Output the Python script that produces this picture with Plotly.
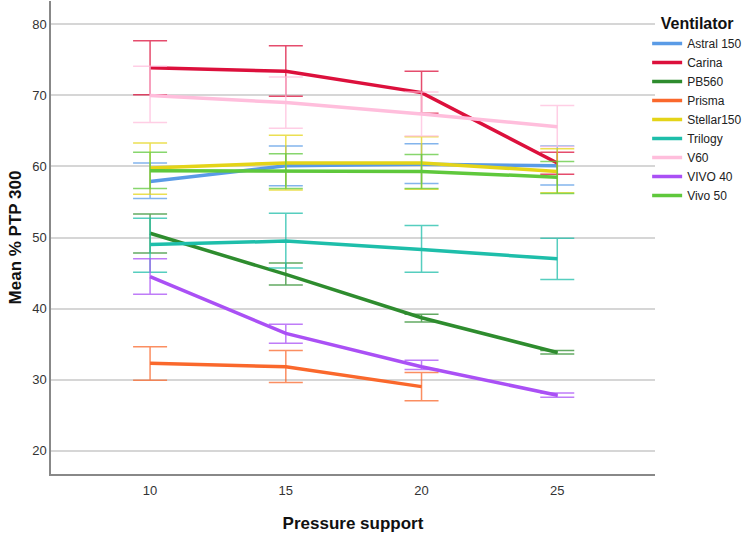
import plotly.graph_objects as go

pressure = [10, 15, 20, 25]

ventilators = ["Astral 150", "Carina", "PB560", "Prisma", "Stellar150",
               "Trilogy", "V60", "VIVO 40", "Vivo 50"]

astral_mean = [57.9, 60.1, 60.3, 60.1]
astral_hi = [60.5, 62.9, 63.2, 62.9]
astral_lo = [55.5, 57.3, 57.6, 57.4]

carina_mean = [73.9, 73.4, 70.4, 60.5]
carina_hi = [77.7, 77.0, 73.4, 62.0]
carina_lo = [70.1, 69.9, 67.5, 58.9]

pb560_mean = [50.6, 44.8, 38.7, 33.8]
pb560_hi = [53.3, 46.4, 39.2, 34.1]
pb560_lo = [47.8, 43.3, 38.1, 33.6]

prisma_mean = [32.3, 31.8, 29.0]
prisma_hi = [34.6, 34.1, 31.0]
prisma_lo = [29.9, 29.6, 27.0]

stellar_mean = [59.8, 60.5, 60.5, 59.3]
stellar_hi = [63.3, 64.4, 64.2, 62.5]
stellar_lo = [56.1, 56.7, 56.8, 56.3]

trilogy_mean = [49.0, 49.5, 48.3, 47.0]
trilogy_hi = [52.7, 53.4, 51.7, 49.9]
trilogy_lo = [45.1, 45.7, 45.1, 44.1]

v60_mean = [70.0, 69.0, 67.4, 65.6]
v60_hi = [74.1, 72.6, 70.5, 68.6]
v60_lo = [66.2, 65.4, 64.3, 62.8]

vivo40_mean = [44.5, 36.5, 31.8, 27.8]
vivo40_hi = [47.0, 37.8, 32.7, 28.1]
vivo40_lo = [42.0, 35.1, 31.4, 27.5]

vivo50_mean = [59.4, 59.3, 59.3, 58.5]
vivo50_hi = [62.0, 61.8, 61.7, 60.7]
vivo50_lo = [56.9, 56.9, 56.9, 56.2]

y_ticks = [20, 30, 40, 50, 60, 70, 80]

series = [
    (astral_mean, astral_hi, astral_lo, (90, 155, 230)),
    (carina_mean, carina_hi, carina_lo, (220, 16, 60)),
    (pb560_mean, pb560_hi, pb560_lo, (46, 140, 46)),
    (prisma_mean, prisma_hi, prisma_lo, (250, 104, 44)),
    (stellar_mean, stellar_hi, stellar_lo, (228, 212, 24)),
    (trilogy_mean, trilogy_hi, trilogy_lo, (30, 190, 170)),
    (v60_mean, v60_hi, v60_lo, (255, 190, 220)),
    (vivo40_mean, vivo40_hi, vivo40_lo, (170, 80, 245)),
    (vivo50_mean, vivo50_hi, vivo50_lo, (95, 200, 60)),
]

fig = go.Figure()
for name, (m, hi, lo, c) in zip(ventilators, series):
    x = pressure[:len(m)]
    fig.add_trace(go.Scatter(
        x=x, y=m, name=name, mode="lines",
        line=dict(color="rgb(%d,%d,%d)" % c, width=3.5),
        error_y=dict(type="data", symmetric=False,
                     array=[h - v for h, v in zip(hi, m)],
                     arrayminus=[v - l for v, l in zip(m, lo)],
                     color="rgba(%d,%d,%d,0.75)" % c,
                     thickness=1.5, width=17),
    ))

fig.update_layout(
    width=750, height=538,
    margin=dict(l=51, r=95, t=1, b=64, autoexpand=False),
    paper_bgcolor="white", plot_bgcolor="white",
    font=dict(family="Liberation Sans, Arial, sans-serif", color="#333333", size=13),
    showlegend=True,
    legend=dict(
        title=dict(text="<b>Ventilator</b>", font=dict(size=16, color="#111111"),
                   side="top center"),
        x=0.987, xanchor="left", y=0.985, yanchor="top",
        font=dict(size=12, color="#222222"),
        itemwidth=30, tracegroupgap=0,
        bgcolor="rgba(0,0,0,0)",
    ),
    xaxis=dict(
        range=[6.35, 28.6], tickvals=pressure, ticktext=[str(p) for p in pressure],
        showgrid=False, zeroline=False, showline=True, linecolor="#888888", linewidth=1.5,
        ticks="", tickfont=dict(size=13, color="#333333"), automargin=False,
        ticklabelstandoff=4,
        title=dict(text="<b>Pressure support</b>", font=dict(size=17, color="#111111"), standoff=20),
    ),
    yaxis=dict(
        range=[16.7, 83.3], tickvals=y_ticks,
        showgrid=True, gridcolor="#d6d6d6", gridwidth=1.5, zeroline=False,
        showline=True, linecolor="#888888", linewidth=1.5,
        ticks="", tickfont=dict(size=13, color="#333333"), automargin=False,
        title=dict(text="<b>Mean % PTP 300</b>", font=dict(size=17, color="#111111"), standoff=6),
    ),
)

fig.write_html("out.html", config={"displayModeBar": False},
               post_script="document.body.style.margin='0';document.body.style.overflow='hidden';")
